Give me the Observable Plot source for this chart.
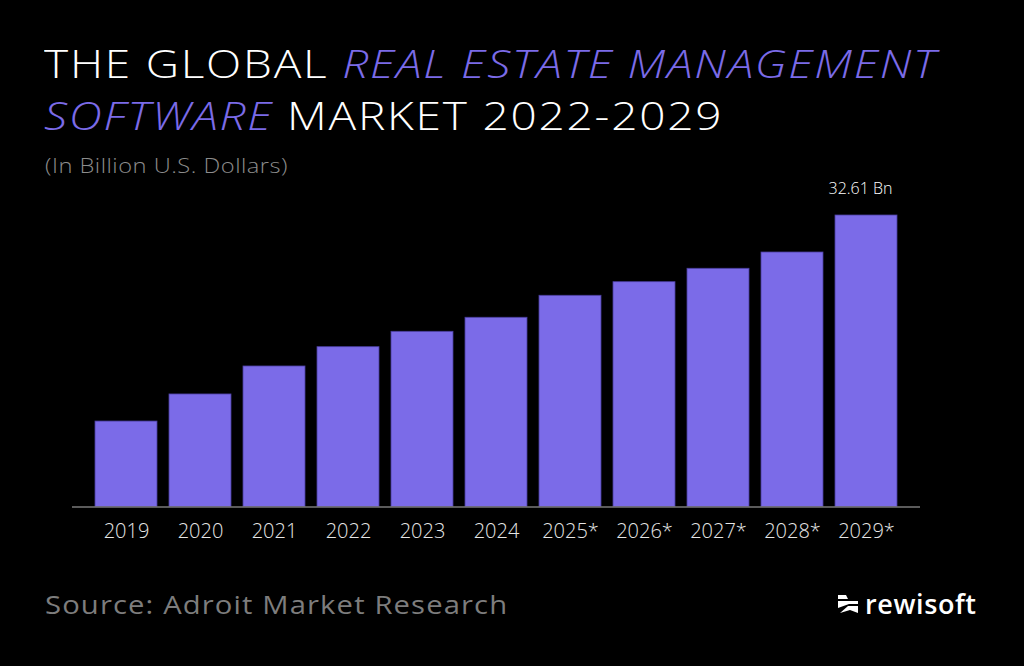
<!DOCTYPE html>
<html>
<head>
<meta charset="utf-8">
<script src="https://cdn.jsdelivr.net/npm/d3@7"></script>
<script src="https://cdn.jsdelivr.net/npm/@observablehq/plot@0.6"></script>
<style>
  html, body { margin: 0; padding: 0; background: #000; }
  #page { position: relative; width: 1024px; height: 666px; background: #000; overflow: hidden; font-family: "Open Sans", "Noto Sans", sans-serif; }
  #title { position: absolute; left: 44px; top: 37px; margin: 0; font-weight: 300; font-size: 39px; line-height: 52px; color: #fff; letter-spacing: 1.5px; white-space: nowrap; transform: scaleX(1.18); transform-origin: 0 0; }
  #title em { color: #7b6be8; font-style: italic; }
  #subtitle { position: absolute; left: 45px; top: 152px; font-size: 19.5px; font-weight: 300; color: #8c8c8c; letter-spacing: 0.4px; white-space: nowrap; transform: scaleX(1.215); transform-origin: 0 0; }
  #chart { position: absolute; left: 0; top: 160px; }
  #source { position: absolute; left: 45px; top: 586px; font-size: 26px; font-weight: 400; color: #7d7d7d; letter-spacing: 1px; white-space: nowrap; transform: scaleX(1.124); transform-origin: 0 0; }
  #logo { position: absolute; left: 837px; top: 585px; display: flex; align-items: center; color: #fff; font-weight: 600; font-size: 27px; letter-spacing: 0.6px; white-space: nowrap; }
  #logo svg { margin-right: 6px; }
</style>
</head>
<body>
<div id="page">
  <h1 id="title">THE GLOBAL <em>REAL ESTATE MANAGEMENT</em><br><em>SOFTWARE</em> MARKET 2022-2029</h1>
  <div id="subtitle">(In Billion U.S. Dollars)</div>
  <div id="chart"></div>
  <div id="source">Source: Adroit Market Research</div>
  <div id="logo">
    <svg width="22" height="22" viewBox="0 0 22 22">
      <path d="M1 2 L9 2 L11 6 L1 6 Z" fill="#fff"/>
      <path d="M1 8 L21 8 L21 11 L12 11 L1 15 Z" fill="#fff"/>
      <path d="M3 20 L11 13 L21 13 L21 20 L13 17 Z" fill="#fff"/>
    </svg>
    <span>rewisoft</span>
  </div>
</div>
<script>
// Data
const years = ["2019", "2020", "2021", "2022", "2023", "2024", "2025*", "2026*", "2027*", "2028*", "2029*"];
const values = [9.56, 12.59, 15.72, 17.88, 19.60, 21.17, 23.63, 25.15, 26.65, 28.47, 32.61];
const labelYear = "2029*";
const labelText = "32.61 Bn";

const data = years.map((y, i) => ({year: y, value: values[i]}));
const labelData = data.filter(d => d.year === labelYear).map(d => ({...d, text: labelText}));

const chart = Plot.plot({
  width: 1024,
  height: 390,
  marginLeft: 72,
  marginRight: 104,
  marginTop: 55,
  marginBottom: 43.5,
  style: { background: "transparent", color: "#e6e6e6", fontFamily: "'Open Sans', 'Noto Sans', sans-serif" },
  x: { domain: years, paddingInner: 0.164, paddingOuter: 0.27, label: null },
  y: { domain: [0, 32.61], axis: null },
  marks: [
    Plot.barY(data, { x: "year", y: "value", fill: "#7b6be8", stroke: "#4a3e9e", strokeWidth: 0.8 }),
    Plot.ruleY([0], { stroke: "#7a7a7a", strokeWidth: 1.5 }),
    Plot.axisX({ tickSize: 0, tickPadding: 17, fontSize: 20, fontWeight: 300, color: "#e6e6e6", label: null, style: { letterSpacing: "0.4px" } }),
    Plot.text(labelData, { x: "year", y: "value", text: "text", dy: -27, dx: -6, fill: "#fff", fontSize: 16, fontWeight: 300 })
  ]
});
document.getElementById("chart").appendChild(chart);
</script>
</body>
</html>
